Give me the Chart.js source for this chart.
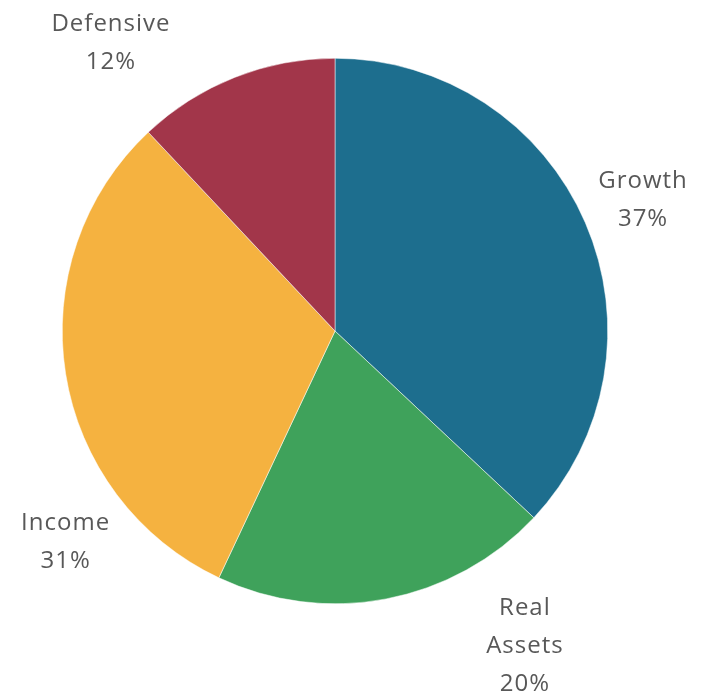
<!DOCTYPE html>
<html>
<head>
<meta charset="utf-8">
<script src="https://cdn.jsdelivr.net/npm/chart.js@4"></script>
<style>
  html, body { margin: 0; padding: 0; background: #fff; }
  #wrap { width: 703px; height: 698px; }
</style>
</head>
<body>
<div id="wrap"><canvas id="allocChart"></canvas></div>
<script>
const categories = ['Growth', 'Real Assets', 'Income', 'Defensive'];
const shares = [37, 20, 31, 12];
const sliceColors = ['#1d6e8e', '#3fa25b', '#f5b240', '#a2364a'];

// label placement: angle nudge (deg) from slice middle, and distance as fraction of radius
const labelNudge = [0.4, -20.3, -29.1, -16.3];
const labelDist = [1.227, 1.348, 1.255, 1.337];

const outsideLabels = {
  id: 'outsideLabels',
  afterDraw(chart) {
    const ctx = chart.ctx;
    const arcs = chart.getDatasetMeta(0).data;
    ctx.save();
    ctx.font = '24px "Open Sans", sans-serif';
    ctx.letterSpacing = '1px';
    ctx.fillStyle = '#585858';
    ctx.textAlign = 'center';
    ctx.textBaseline = 'middle';
    const lineH = 38;
    arcs.forEach((arc, i) => {
      const p = arc.getProps(['x', 'y', 'startAngle', 'endAngle', 'outerRadius'], true);
      const a = (p.startAngle + p.endAngle) / 2 + labelNudge[i] * Math.PI / 180;
      const r = p.outerRadius * labelDist[i];
      const cx = p.x + Math.cos(a) * r;
      const cy = p.y + Math.sin(a) * r;
      const lines = categories[i].split(' ').concat(shares[i] + '%');
      const top = cy - (lines.length - 1) * lineH / 2;
      lines.forEach((t, j) => ctx.fillText(t, cx, top + j * lineH));
    });
    ctx.restore();
  }
};

new Chart(document.getElementById('allocChart'), {
  type: 'pie',
  data: {
    labels: categories,
    datasets: [{
      data: shares,
      backgroundColor: sliceColors,
      borderColor: '#ffffff',
      borderWidth: 0.5
    }]
  },
  options: {
    responsive: true,
    maintainAspectRatio: false,
    animation: false,
    layout: { padding: { left: 62, right: 95, top: 58, bottom: 94 } },
    plugins: {
      legend: { display: false },
      tooltip: { enabled: false }
    }
  },
  plugins: [outsideLabels]
});
</script>
</body>
</html>
